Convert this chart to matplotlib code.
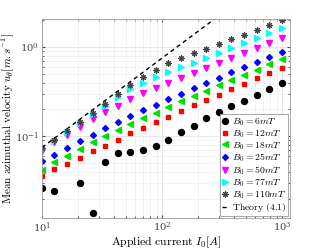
import numpy as np
import matplotlib
matplotlib.use("Agg")
import matplotlib.pyplot as plt

plt.rcParams['mathtext.fontset'] = 'cm'
plt.rcParams['font.family'] = 'DejaVu Serif'

current = [10, 12.7, 16.2, 20.7, 26.4, 33.6, 42.8, 54.6, 69.5, 88.6,
           112.9, 143.8, 183.3, 233.6, 297.6, 379.3, 483.3, 615.8, 784.8, 1000]

u_6 = [0.0266, 0.0246, np.nan, 0.0298, 0.0139, 0.0515, 0.0645, 0.0667, 0.0703, 0.0789,
       0.0902, 0.1117, 0.1303, 0.1615, 0.186, 0.217, 0.2505, 0.292, 0.341, 0.398]
u_12 = [0.0362, 0.0427, 0.0490, 0.0576, 0.0685, 0.0779, 0.0916, 0.108, 0.124, 0.1435,
        0.166, 0.192, 0.222, 0.255, 0.292, 0.339, 0.388, 0.446, 0.512, 0.582]
u_18 = [0.0423, 0.0519, 0.0607, 0.0715, 0.0857, 0.100, 0.1177, 0.1374, 0.159, 0.184,
        0.213, 0.2465, 0.285, 0.326, 0.3725, 0.427, 0.486, 0.553, 0.640, 0.728]
u_25 = [0.0525, 0.0622, 0.0740, 0.0886, 0.104, 0.123, 0.1446, 0.1688, 0.1955, 0.226,
        0.2596, 0.298, 0.345, 0.397, 0.453, 0.521, 0.593, 0.674, 0.773, 0.879]
u_50 = [0.0679, 0.0857, 0.1034, 0.128, 0.155, 0.1886, 0.221, 0.2596, 0.303, 0.345,
        0.398, 0.450, 0.515, 0.587, 0.667, 0.759, 0.863, 0.982, 1.117, 1.27]
u_77 = [0.0715, 0.0893, 0.1126, 0.142, 0.178, 0.221, 0.2755, 0.339, 0.395, 0.461,
        0.529, 0.593, 0.667, 0.763, 0.863, 0.982, 1.117, 1.27, 1.446, 1.64]
u_110 = [0.0740, 0.0921, 0.116, 0.1465, 0.185, 0.230, 0.298, 0.3755, 0.461, 0.553,
         0.662, 0.763, 0.850, 0.942, 1.075, 1.22, 1.38, 1.56, 1.77, 2.01]

theory_I = [10, 1000]
theory_u = [0.0751, 7.51]

labels = [r'$B_0 = 6mT$', r'$B_0 = 12mT$', r'$B_0 = 18mT$', r'$B_0 = 25mT$',
          r'$B_0 = 50mT$', r'$B_0 = 77mT$', r'$B_0 = 110mT$']

fig = plt.figure(figsize=(3.2, 2.49), dpi=100)
ax = fig.add_axes([42/320, 1-218/249, 248/320, 199/249])

styles = [
    dict(marker='o', color='k', ms=4.3),
    dict(marker='s', color='#ff0000', ms=3.2),
    dict(marker='<', color='#00e000', ms=4.3),
    dict(marker='D', color='#0000ff', ms=3.0),
    dict(marker='v', color='#ff00ff', ms=4.3),
    dict(marker='>', color='#00ffff', ms=4.3),
    dict(marker=(8, 2, 0), color='#444444', ms=4.5, mew=0.8),
]
series = [u_6, u_12, u_18, u_25, u_50, u_77, u_110]
for vals, lab, st in zip(series, labels, styles):
    ax.plot(current, vals, linestyle='none', label=lab,
            markeredgecolor=st['color'], **st)

ax.plot(theory_I, theory_u, 'k--', lw=1.0, dashes=(3, 2.5),
        label=r'$\mathrm{Theory\ (4.1)}$')

ax.set_xscale('log')
ax.set_yscale('log')
ax.set_xlim(10, 1166)
ax.set_ylim(0.0122, 2.06)

ax.grid(True, which='major', color='#dddddd', lw=0.5)
ax.grid(True, which='minor', color='#eeeeee', lw=0.5)
ax.set_axisbelow(True)
ax.tick_params(which='both', direction='in', labelsize=7.2, colors='#444444',
               top=True, right=True, length=2.5, pad=2)
ax.tick_params(axis='y', which='both', pad=2)
ax.tick_params(which='minor', length=1.5)
for sp in ax.spines.values():
    sp.set_color('#999999')
    sp.set_linewidth(0.6)

ax.set_xlabel(r'$\mathrm{Applied\ current}\ I_0[A]$', fontsize=8.5)
ax.xaxis.set_label_coords(0.5, -0.085)
ax.set_ylabel(r'$\mathrm{Mean\ azimuthal\ velocity}\ u_\theta[m.s^{-1}]$', fontsize=8)
ax.yaxis.set_label_coords(-0.102, 0.5)

leg = ax.legend(loc='lower right', fontsize=7, handlelength=0.6, handletextpad=0.4,
                labelspacing=0.02, borderpad=0.2, borderaxespad=0.2,
                fancybox=False, framealpha=1, edgecolor='#999999')
leg.get_frame().set_linewidth(0.6)

fig.savefig('out.png', dpi=100)
